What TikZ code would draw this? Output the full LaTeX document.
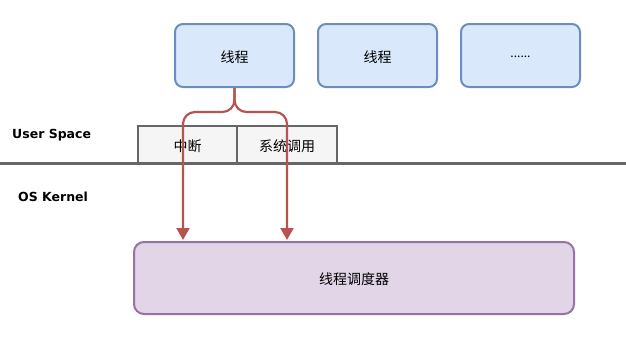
\documentclass[tikz,border=0pt]{standalone}
\usepackage{fontspec}
\setmainfont{Noto Sans CJK SC}
\newfontfamily\labelfont{DejaVu Sans}
\usetikzlibrary{arrows.meta}
\definecolor{thrfill}{HTML}{DAE8FC}
\definecolor{thrline}{HTML}{6C8EBF}
\definecolor{grfill}{HTML}{F5F5F5}
\definecolor{grline}{HTML}{666666}
\definecolor{schfill}{HTML}{E1D5E7}
\definecolor{schline}{HTML}{9673A6}
\definecolor{arr}{HTML}{B85450}
\begin{document}
\begin{tikzpicture}[x=1pt,y=-1pt,
  txt/.style={font=\fontsize{14}{16}\selectfont,text height=13pt,text depth=0pt},
  thr/.style={txt,draw=thrline,fill=thrfill,line width=2pt,rounded corners=8pt,minimum width=119pt,minimum height=63pt,inner sep=0pt},
  gbox/.style={txt,draw=grline,fill=grfill,line width=2pt,minimum width=100pt,minimum height=37pt,inner sep=0pt},
  sch/.style={txt,draw=schline,fill=schfill,line width=2pt,rounded corners=10pt,minimum width=440pt,minimum height=72pt,inner sep=0pt},
  lbl/.style={font=\labelfont\bfseries\fontsize{12.5}{14}\selectfont,anchor=west,inner sep=0pt},
  conn/.style={draw=arr,line width=2.2pt,-{Triangle[length=12pt,width=13pt]}}]
\useasboundingbox (0,0) rectangle (626,346);
\node[thr] (t1) at (234.5,55.5) {线程};
\node[thr] (t2) at (377.5,55.5) {线程};
\node[thr,font=\fontsize{12}{14}\selectfont,text height=4pt] (t3) at (520.5,55.5) {......};
\node[gbox] (irq) at (187.5,144.5) {中断};
\node[gbox] (sys) at (287,144.5) {系统调用};
\coordinate (l0) at (0,163);
\coordinate (l1) at (626,163);
\draw[grline,line width=3pt] (l0) -- (l1);
\node[lbl] (us) at (12,135) {User Space};
\node[lbl] (os) at (18,197) {OS Kernel};
\node[sch] (s) at (354,278) {线程调度器};
\coordinate (a1) at (183,240);
\coordinate (a2) at (287,240);
\draw[conn,rounded corners=12pt] (t1.south) -- (234.5,112) -- (183,112) -- (a1);
\draw[conn,rounded corners=12pt] (t1.south) -- (234.5,112) -- (287,112) -- (a2);
\end{tikzpicture}
\end{document}
